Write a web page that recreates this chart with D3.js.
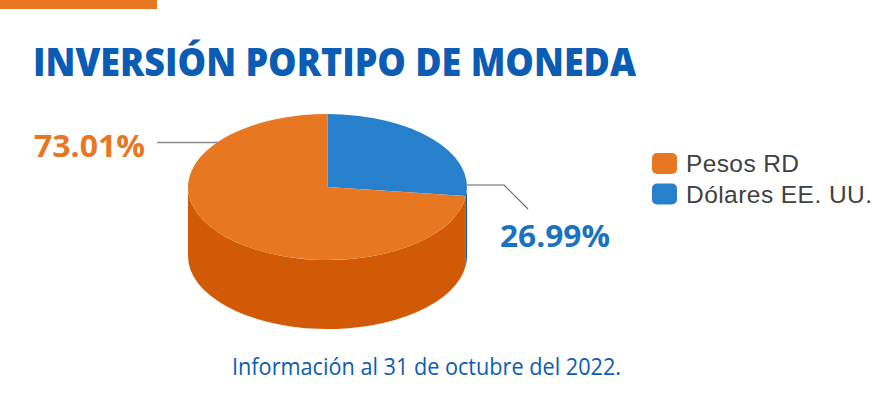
<!DOCTYPE html>
<html><head><meta charset="utf-8">
<script src="https://cdn.jsdelivr.net/npm/d3@7"></script>
<style>html,body{margin:0;padding:0;background:#fff;}svg{display:block;}</style>
</head><body>
<svg id="c" width="893" height="396"></svg>
<script>
const categories = ["Dólares EE. UU.", "Pesos RD"];
const values = [26.99, 73.01];
const valueLabels = ["26.99%", "73.01%"];
const legendOrder = ["Pesos RD", "Dólares EE. UU."];
const topColors = {"Pesos RD": "#E87722", "Dólares EE. UU.": "#2680CB"};
const sideColors = {"Pesos RD": "#D25A06", "Dólares EE. UU.": "#005CA9"};
const labelColors = {"Pesos RD": "#E87722", "Dólares EE. UU.": "#1A72C2"};

const svg = d3.select("#c");
// top orange bar
svg.append("rect").attr("x",0).attr("y",0).attr("width",157).attr("height",9).attr("fill","#E87722");
// title
svg.append("text").attr("x",33).attr("y",76)
  .attr("font-family","Open Sans").attr("font-weight",800).attr("font-size",39)
  .attr("fill","#0A5CB4").attr("textLength",603).attr("lengthAdjust","spacingAndGlyphs")
  .text("INVERSIÓN PORTIPO DE MONEDA");

// 3D pie
const cx = 327.5, cy = 187, rx = 139.5, ry = 73, depth = 69;
const pie = d3.pie().sort(null).value(d => d.v).startAngle(0).endAngle(2*Math.PI);
const data = pie(categories.map((c,i)=>({c, v: values[i], lab: valueLabels[i]})));
const px = a => cx + rx*Math.sin(a), py = a => cy - ry*Math.cos(a);

const g = svg.append("g");
// sides (front half: angles between PI/2 and 3PI/2)
data.forEach(d => {
  const s = Math.max(d.startAngle, Math.PI/2), e = Math.min(d.endAngle, 3*Math.PI/2);
  if (e <= s) return;
  const large = (e - s) > Math.PI ? 1 : 0;
  const p = `M${px(s)},${py(s)} A${rx},${ry} 0 ${large} 1 ${px(e)},${py(e)} L${px(e)},${py(e)+depth} A${rx},${ry} 0 ${large} 0 ${px(s)},${py(s)+depth} Z`;
  g.append("path").attr("d", p).attr("fill", sideColors[d.data.c]);
});
// tops
data.forEach(d => {
  const s = d.startAngle, e = d.endAngle;
  const large = (e - s) > Math.PI ? 1 : 0;
  const p = `M${cx},${cy} L${px(s)},${py(s)} A${rx},${ry} 0 ${large} 1 ${px(e)},${py(e)} Z`;
  g.append("path").attr("d", p).attr("fill", topColors[d.data.c]);
});

// labels with leader lines
const lab = {};
data.forEach(d => lab[d.data.c] = d);
const dPeso = lab["Pesos RD"], dDol = lab["Dólares EE. UU."];
svg.append("polyline").attr("points","157,142.5 218,142.5").attr("fill","none").attr("stroke","#8a8a8a").attr("stroke-width",1.3);
svg.append("text").attr("x",145).attr("y",157).attr("text-anchor","end")
  .attr("font-family","Open Sans").attr("font-weight",700).attr("font-size",31)
  .attr("fill",labelColors["Pesos RD"]).attr("textLength",111).attr("lengthAdjust","spacingAndGlyphs")
  .text(dPeso.data.lab);
svg.append("polyline").attr("points","467,185 504,185 528,209").attr("fill","none").attr("stroke","#666").attr("stroke-width",1.1);
svg.append("text").attr("x",500).attr("y",247)
  .attr("font-family","Open Sans").attr("font-weight",700).attr("font-size",31)
  .attr("fill",labelColors["Dólares EE. UU."]).attr("textLength",110).attr("lengthAdjust","spacingAndGlyphs")
  .text(dDol.data.lab);

// legend
const legendWidths = {"Pesos RD": 113, "Dólares EE. UU.": 186};
const lg = svg.append("g");
legendOrder.forEach((c,i) => {
  const y0 = 153 + i*30.5;
  lg.append("rect").attr("x",652).attr("y",y0).attr("width",25).attr("height",21).attr("rx",5)
    .attr("fill", topColors[c]);
  lg.append("text").attr("x",686).attr("y",y0+19)
    .attr("font-family","Liberation Sans").attr("font-size",24.5).attr("fill","#404040")
    .attr("textLength",legendWidths[c]).attr("lengthAdjust","spacing").text(c);
});

// footer
svg.append("text").attr("x",232).attr("y",375)
  .attr("font-family","Open Sans").attr("font-weight",500).attr("font-size",23).attr("fill","#0B5DB4")
  .attr("textLength",389).attr("lengthAdjust","spacingAndGlyphs")
  .text("Información al 31 de octubre del 2022.");
</script>
</body></html>
